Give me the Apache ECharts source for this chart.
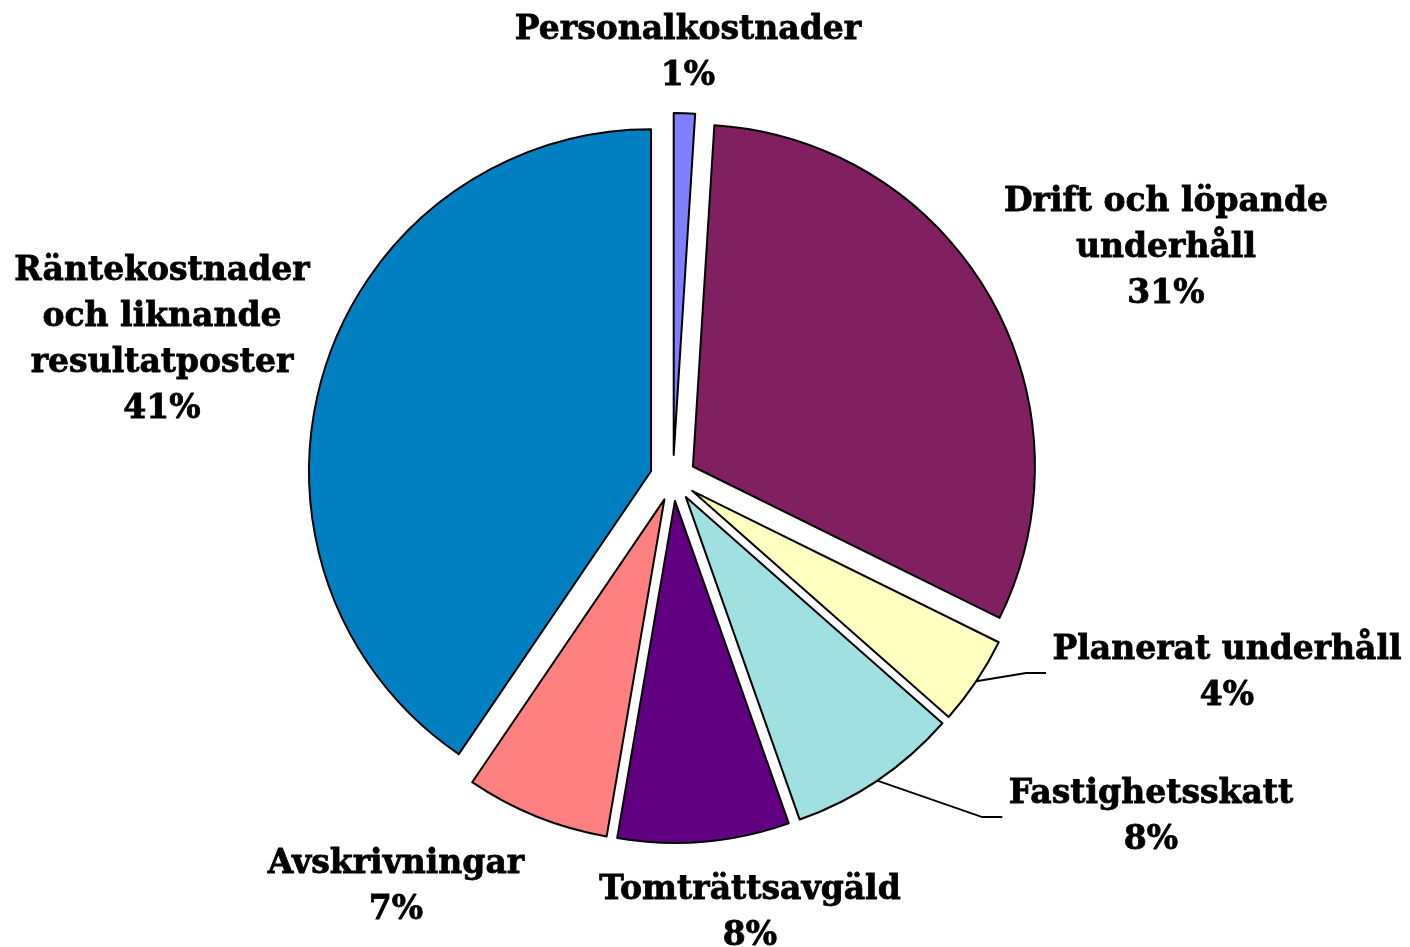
<!DOCTYPE html>
<html>
<head>
<meta charset="utf-8">
<script src="https://cdn.jsdelivr.net/npm/echarts@6/dist/echarts.min.js"></script>
<style>
  html, body { margin: 0; padding: 0; background: #fff; }
  #main { width: 1410px; height: 947px; }
</style>
</head>
<body>
<div id="main"></div>
<script>
// kostnadsfördelning, medurs från kl 12
var names = [
  'Personalkostnader',
  'Drift och löpande\nunderhåll',
  'Planerat underhåll',
  'Fastighetsskatt',
  'Tomträttsavgäld',
  'Avskrivningar',
  'Räntekostnader\noch liknande\nresultatposter'
];
var values = [1.0, 31.3, 4.2, 8.1, 8.1, 6.8, 40.5];
var colors = ['#8080FF', '#802060', '#FFFFC0', '#A0E0E0', '#600080', '#FF8080', '#0080C0'];

// label block centres (layout only)
var labelPos = [
  [688, 53], [1166, 248], [1227, 673], [1151, 817],
  [750, 913], [396, 887], [162, 340]
];
// items that get a leader line
var withLine = [false, false, true, true, false, false, false];

var CX = 673, CY = 478, R = 342, EXPLODE = 23;

var chart = echarts.init(document.getElementById('main'), null, { renderer: 'canvas' });

// slices (exploded), no labels
var sliceData = names.map(function (n, i) {
  return { name: n, value: values[i], selected: true, itemStyle: { color: colors[i] } };
});
// same pie, invisible, only carries the labels
var labelData = names.map(function (n, i) {
  return { name: n, value: values[i], labelLine: { show: withLine[i] } };
});

var common = {
  type: 'pie',
  center: [CX, CY],
  radius: R,
  startAngle: 90,
  clockwise: true,
  percentPrecision: 0,
  avoidLabelOverlap: false,
  emphasis: { disabled: true }
};

var option = {
  backgroundColor: '#fff',
  animation: false,
  series: [
    Object.assign({}, common, {
      selectedMode: 'multiple',
      selectedOffset: EXPLODE,
      silent: true,
      itemStyle: { borderColor: '#000', borderWidth: 2 },
      select: { itemStyle: { borderColor: '#000', borderWidth: 2 } },
      label: { show: false },
      labelLine: { show: false },
      data: sliceData
    }),
    Object.assign({}, common, {
      silent: true,
      itemStyle: { color: 'rgba(0,0,0,0)', borderWidth: 0 },
      label: {
        show: true,
        position: 'outside',
        formatter: '{b}\n{d}%',
        fontFamily: 'DejaVu Serif',
        fontWeight: 'bold',
        fontSize: 33,
        lineHeight: 46,
        color: '#000',
        textBorderColor: '#000',
        textBorderWidth: 0.8,
        align: 'center'
      },
      labelLine: {
        lineStyle: { color: '#000', width: 1.8 },
        length: 20,
        length2: 20
      },
      labelLayout: function (params) {
        var p = labelPos[params.dataIndex];
        var res = { x: p[0], y: p[1], align: 'center', verticalAlign: 'middle' };
        if (withLine[params.dataIndex] && params.labelLinePoints) {
          // start on the exploded rim, then a short elbow into the label's left side
          var s = params.labelLinePoints[0];
          var dx = s[0] - CX, dy = s[1] - CY;
          var len = Math.sqrt(dx * dx + dy * dy);
          var start = [s[0] + dx / len * EXPLODE, s[1] + dy / len * EXPLODE];
          var end = [p[0] - params.labelRect.width / 2 - 6, p[1]];
          res.labelLinePoints = [start, [end[0] - 20, end[1]], end];
        }
        return res;
      },
      data: labelData
    })
  ]
};
chart.setOption(option);
</script>
</body>
</html>
